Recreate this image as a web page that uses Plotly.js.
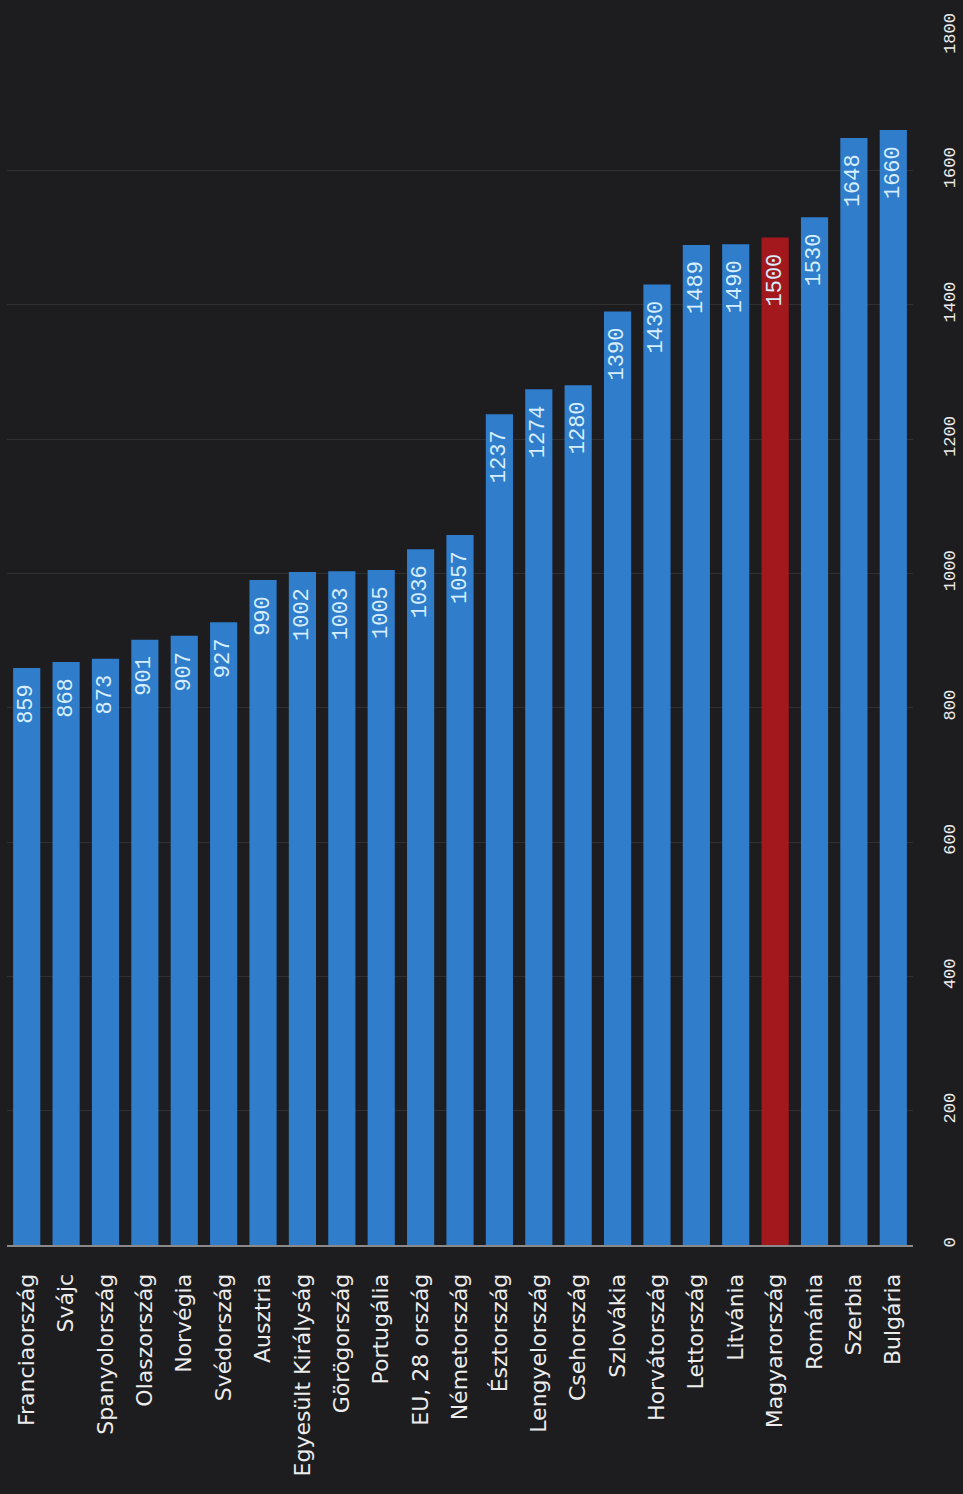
<!DOCTYPE html>
<html>
<head>
<meta charset="utf-8">
<script src="https://cdn.plot.ly/plotly-3.0.1.min.js"></script>
<style>html,body{margin:0;padding:0;background:#1d1d20;}</style>
</head>
<body>
<div id="chart" style="width:963px;height:1494px;"></div>
<script>
const categories = ["Franciaország","Svájc","Spanyolország","Olaszország","Norvégia","Svédország","Ausztria","Egyesült Királyság","Görögország","Portugália","EU, 28 ország","Németország","Észtország","Lengyelország","Csehország","Szlovákia","Horvátország","Lettország","Litvánia","Magyarország","Románia","Szerbia","Bulgária"];
const values = [859,868,873,901,907,927,990,1002,1003,1005,1036,1057,1237,1274,1280,1390,1430,1489,1490,1500,1530,1648,1660];
const highlight = "Magyarország";
const tickValues = [0,200,400,600,800,1000,1200,1400,1600,1800];

const colors = categories.map(c => c === highlight ? "#a3181d" : "#2f7dcb");

Plotly.newPlot("chart", [{
  type: "bar",
  x: categories,
  y: values,
  marker: {color: colors, line: {width: 0}},
  text: values.map(v => String(v)),
  texttemplate: "%{text}\u00a0",
  textposition: "inside",
  insidetextanchor: "end",
  textangle: -90,
  constraintext: "none",
  textfont: {family: "Liberation Mono, monospace", size: 22, color: "#d6eeff"},
  hoverinfo: "none"
}], {
  width: 963,
  height: 1494,
  paper_bgcolor: "#1d1d20",
  plot_bgcolor: "#1d1d20",
  margin: {l: 7, r: 50, t: 36, b: 249},
  bargap: 0.31,
  showlegend: false,
  xaxis: {
    type: "category",
    tickangle: -90,
    tickfont: {family: "DejaVu Sans, sans-serif", size: 22, color: "#ececec"},
    ticks: "",
    ticklabelstandoff: 18,
    showline: true,
    linecolor: "#8a8a8a",
    linewidth: 2,
    showgrid: false,
    zeroline: false
  },
  yaxis: {
    side: "right",
    range: [0, 1800],
    tickvals: tickValues,
    ticktext: tickValues.map(String),
    tickangle: -90,
    tickfont: {family: "Liberation Mono, monospace", size: 17, color: "#ececec"},
    ticks: "",
    ticklabelstandoff: 24,
    showgrid: true,
    gridcolor: "#303033",
    gridwidth: 1,
    zeroline: false,
    showline: false
  }
}, {displayModeBar: false, staticPlot: true});
</script>
</body>
</html>
